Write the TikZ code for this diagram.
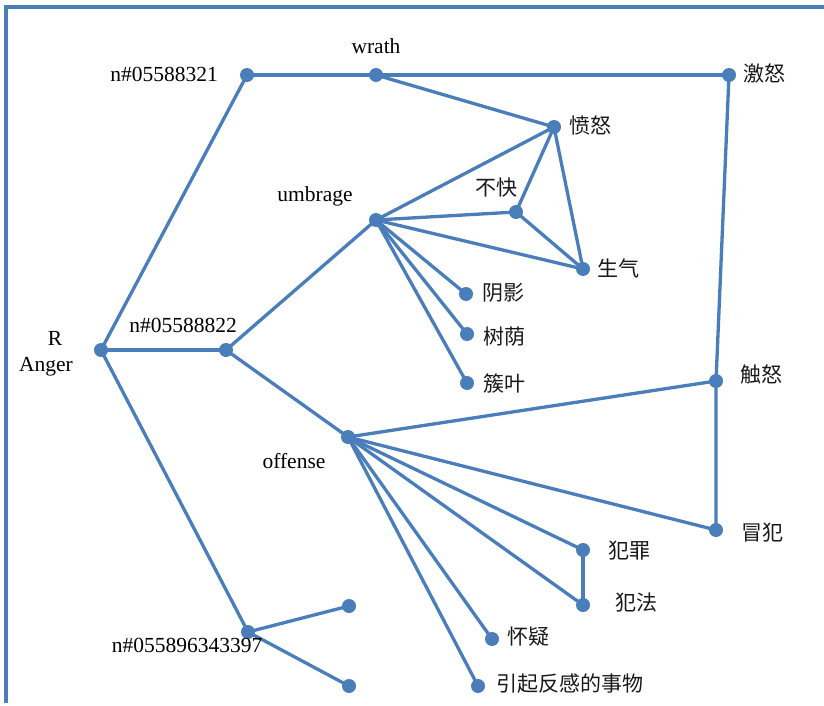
\documentclass[tikz,border=0pt]{standalone}
\usepackage{fontspec}
\setmainfont{Liberation Serif}
\newfontfamily\cjk{Noto Sans CJK SC}
\definecolor{netblue}{HTML}{4A7EBB}
\begin{document}
\begin{tikzpicture}[x=1pt,y=-1pt,
  dot/.style={circle,fill=netblue,inner sep=0pt,minimum size=14pt},
  link/.style={draw=netblue,line width=3.3pt},
  en/.style={font=\fontsize{21.5}{24}\selectfont,inner sep=0pt,text=black},
  zh/.style={font=\cjk\fontsize{21}{23}\selectfont,inner sep=0pt,text=black!90}]
  \useasboundingbox (0,0) rectangle (824,706);
  \fill[white] (0,0) rectangle (824,706);
  % frame edges
  \draw[netblue,line width=3.5pt] (6,703) -- (6,7) -- (824,7);

  % vertex positions
  \coordinate (anger) at (101,350);
  \coordinate (na) at (247,75);
  \coordinate (wrath) at (376,75);
  \coordinate (jinu) at (729,75);
  \coordinate (fennu) at (554,127);
  \coordinate (umbrage) at (376,220);
  \coordinate (buk) at (516,212);
  \coordinate (shengqi) at (583,269);
  \coordinate (yinying) at (466,294);
  \coordinate (shuyin) at (467,334);
  \coordinate (cuye) at (467,383);
  \coordinate (nb) at (226,350);
  \coordinate (offense) at (348,437);
  \coordinate (chunu) at (716,381);
  \coordinate (maofan) at (716,530);
  \coordinate (fanzui) at (583,550);
  \coordinate (fanfa) at (583,605);
  \coordinate (huaiyi) at (492,639);
  \coordinate (yinqi) at (478,686);
  \coordinate (nc) at (248,632);
  \coordinate (leafa) at (349,606);
  \coordinate (leafb) at (349,686);

  % edges first, so the dots sit on top
  \path[link] (anger) -- (na);
  \path[link] (anger) -- (nb);
  \path[link] (anger) -- (nc);
  \path[link] (na) -- (wrath) -- (jinu);
  \path[link] (wrath) -- (fennu);
  \path[link] (jinu) -- (chunu) -- (maofan);
  \path[link] (nb) -- (umbrage);
  \path[link] (nb) -- (offense);
  \path[link] (umbrage) -- (fennu);
  \path[link] (umbrage) -- (buk);
  \path[link] (umbrage) -- (shengqi);
  \path[link] (umbrage) -- (yinying);
  \path[link] (umbrage) -- (shuyin);
  \path[link] (umbrage) -- (cuye);
  \path[link] (buk) -- (fennu);
  \path[link] (buk) -- (shengqi);
  \path[link] (fennu) -- (shengqi);
  \path[link] (offense) -- (chunu);
  \path[link] (offense) -- (maofan);
  \path[link] (offense) -- (fanzui);
  \path[link] (offense) -- (fanfa);
  \path[link] (offense) -- (huaiyi);
  \path[link] (offense) -- (yinqi);
  \path[link] (fanzui) -- (fanfa);
  \path[link] (nc) -- (leafa);
  \path[link] (nc) -- (leafb);

  % vertex dots
  \foreach \v in {anger,na,wrath,jinu,fennu,umbrage,buk,shengqi,yinying,shuyin,
                  cuye,nb,offense,chunu,maofan,fanzui,fanfa,huaiyi,yinqi,nc,leafa,leafb}
    \node[dot] (d-\v) at (\v) {};

  % labels
  \node[en] (tR) at (55,338) {R};
  \node[en] (tAnger) at (46,367) {Anger};
  \node[en] (tna) at (164,74) {n\#05588321};
  \node[en] (twrath) at (376,46) {wrath};
  \node[en] (tumbrage) at (315,196) {umbrage};
  \node[en] (tnb) at (183,325) {n\#05588822};
  \node[en] (toffense) at (294,461) {offense};
  \node[en] (tnc) at (187,645) {n\#055896343397};
  \node[zh] (tjinu) at (764,74) {激怒};
  \node[zh] (tfennu) at (590,126) {愤怒};
  \node[zh] (tbuk) at (496,188) {不快};
  \node[zh] (tshengqi) at (618,268) {生气};
  \node[zh] (tyinying) at (503,293) {阴影};
  \node[zh] (tshuyin) at (504,337) {树荫};
  \node[zh] (tcuye) at (504,383) {簇叶};
  \node[zh] (tchunu) at (761,375) {触怒};
  \node[zh] (tmaofan) at (762,533) {冒犯};
  \node[zh] (tfanzui) at (629,551) {犯罪};
  \node[zh] (tfanfa) at (636,603) {犯法};
  \node[zh] (thuaiyi) at (528,637) {怀疑};
  \node[zh] (tyinqi) at (570,684) {引起反感的事物};
\end{tikzpicture}
\end{document}
